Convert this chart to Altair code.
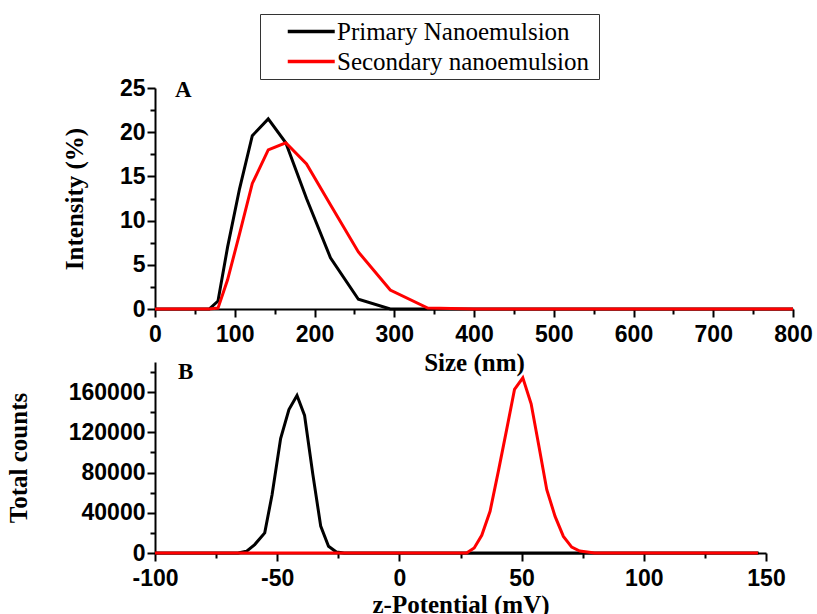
import altair as alt
import pandas as pd

# ---------------- data ----------------
series_names = ["Primary Nanoemulsion", "Secondary nanoemulsion"]
series_colors = ["#000000", "#ff0000"]

# Panel A: size distribution (intensity %)
size_primary = [0, 68, 79, 91, 106, 122, 142, 164, 190, 220, 255, 295, 342, 400, 800]
intensity_primary = [0, 0, 0.9, 7.0, 13.6, 19.6, 21.5, 18.8, 12.5, 5.8, 1.1, 0, 0, 0, 0]
size_secondary = [0, 68, 79, 91, 106, 122, 142, 164, 190, 220, 255, 295, 342, 400, 800]
intensity_secondary = [0, 0, 0.1, 3.3, 8.5, 14.2, 18.0, 18.8, 16.4, 11.8, 6.45, 2.15, 0.1, 0, 0]

# Panel B: zeta potential (total counts)
zeta_primary = [-100, -66.0, -62.6, -59.2, -55.1, -52.1, -48.6, -45.2, -41.9, -38.8, -35.4,
                -32.2, -29.0, -25.8, -22.6, 147]
counts_primary = [0, 0, 1700, 8400, 20000, 58000, 113800, 142700, 156700, 136800, 78000,
                  26700, 6700, 1000, 0, 0]
zeta_secondary = [-100, 27.5, 30.6, 33.7, 37.1, 40.5, 43.9, 47.1, 50.5, 53.9, 57.2,
                  60.3, 63.7, 67.1, 70.5, 73.8, 79.9, 146.7]
counts_secondary = [0, 0, 5000, 17600, 41500, 81400, 123000, 162700, 174300, 148400,
                    104600, 63000, 36400, 16500, 5800, 2000, 0, 0]

# axis ticks (major + minor)
xa_ticks = list(range(0, 801, 50))
ya_ticks = [i * 2.5 for i in range(11)]
xb_ticks = list(range(-100, 151, 25))
yb_ticks = list(range(0, 180001, 20000))

# ---------------- tables ----------------
df_a = pd.concat([
    pd.DataFrame({"size": size_primary, "val": intensity_primary, "series": series_names[0], "o": 0}),
    pd.DataFrame({"size": size_secondary, "val": intensity_secondary, "series": series_names[1], "o": 1}),
], ignore_index=True)
df_b = pd.concat([
    pd.DataFrame({"zeta": zeta_primary, "val": counts_primary, "series": series_names[0], "o": 0}),
    pd.DataFrame({"zeta": zeta_secondary, "val": counts_secondary, "series": series_names[1], "o": 1}),
], ignore_index=True)

color_scale = alt.Scale(domain=series_names, range=series_colors)


def axis(values, major_test, title, label_pad, title_pad):
    return alt.Axis(
        values=values,
        labelExpr=f"{major_test} ? toString(datum.value) : ''",
        tickSize={"condition": {"test": major_test, "value": 8}, "value": 5},
        title=title,
        labelPadding=label_pad,
        titlePadding=title_pad,
        labelFlush=False,
        labelOverlap=False,
    )


legend = alt.Legend(
    orient="none",
    legendX=105,
    legendY=-74,
    title="\u00a0",
    titleOrient="right",
    titlePadding=6,
    titleFontSize=25,
    symbolType="M-1,0H3",
    symbolSize=552,
    symbolStrokeWidth=3.5,
    labelFont="Liberation Serif",
    labelFontSize=25,
    labelFontWeight="normal",
    labelColor="black",
    labelOffset=24,
    symbolOffset=22,
    padding=4,
    rowPadding=3,
    labelLimit=500,
    strokeColor="#333333",
    fillColor="white",
)

lines_a = alt.Chart(df_a).mark_line(strokeWidth=3).encode(
    x=alt.X("size:Q", scale=alt.Scale(domain=[0, 800], nice=False),
            axis=axis(xa_ticks, "datum.value % 100 === 0", "Size (nm)", 6, 4)),
    y=alt.Y("val:Q", scale=alt.Scale(domain=[0, 25], nice=False),
            axis=axis(ya_ticks, "datum.value % 5 === 0", "Intensity (%)", 2, 32)),
    color=alt.Color("series:N", scale=color_scale, legend=legend),
    order="o:Q",
)
label_a = alt.Chart(pd.DataFrame({"t": ["A"]})).mark_text(
    font="Liberation Serif", fontSize=23, fontWeight="bold", align="left",
    baseline="alphabetic", color="black",
).encode(text="t:N", x=alt.value(20), y=alt.value(9))

panel_a = alt.layer(lines_a, label_a).properties(width=638, height=221)

lines_b = alt.Chart(df_b).mark_line(strokeWidth=3).encode(
    x=alt.X("zeta:Q", scale=alt.Scale(domain=[-100, 150], nice=False),
            axis=axis(xb_ticks, "datum.value % 50 === 0", "z-Potential (mV)", 6, 2)),
    y=alt.Y("val:Q", scale=alt.Scale(domain=[0, 190000], nice=False),
            axis=axis(yb_ticks, "datum.value % 40000 === 0", "Total counts", 2, 37)),
    color=alt.Color("series:N", scale=color_scale, legend=None),
    order="o:Q",
)
label_b = alt.Chart(pd.DataFrame({"t": ["B"]})).mark_text(
    font="Liberation Serif", fontSize=23, fontWeight="bold", align="left",
    baseline="alphabetic", color="black",
).encode(text="t:N", x=alt.value(23), y=alt.value(17))

panel_b = alt.layer(lines_b, label_b).properties(width=611, height=191)

chart = alt.vconcat(panel_a, panel_b, spacing=53, bounds="flush").resolve_legend(
    color="independent"
).properties(
    padding={"left": 6, "top": 13, "right": 2, "bottom": 0},
    background="white",
).configure_view(stroke=None).configure_axis(
    domainColor="black", domainWidth=2, tickColor="black", tickWidth=2,
    labelFont="Liberation Sans", labelFontWeight="bold", labelFontSize=23,
    labelColor="black", titleFont="Liberation Serif", titleFontSize=25,
    titleFontWeight="bold", titleColor="black", grid=False,
)

chart.save("out.html", embed_options={"renderer": "svg", "actions": False})
